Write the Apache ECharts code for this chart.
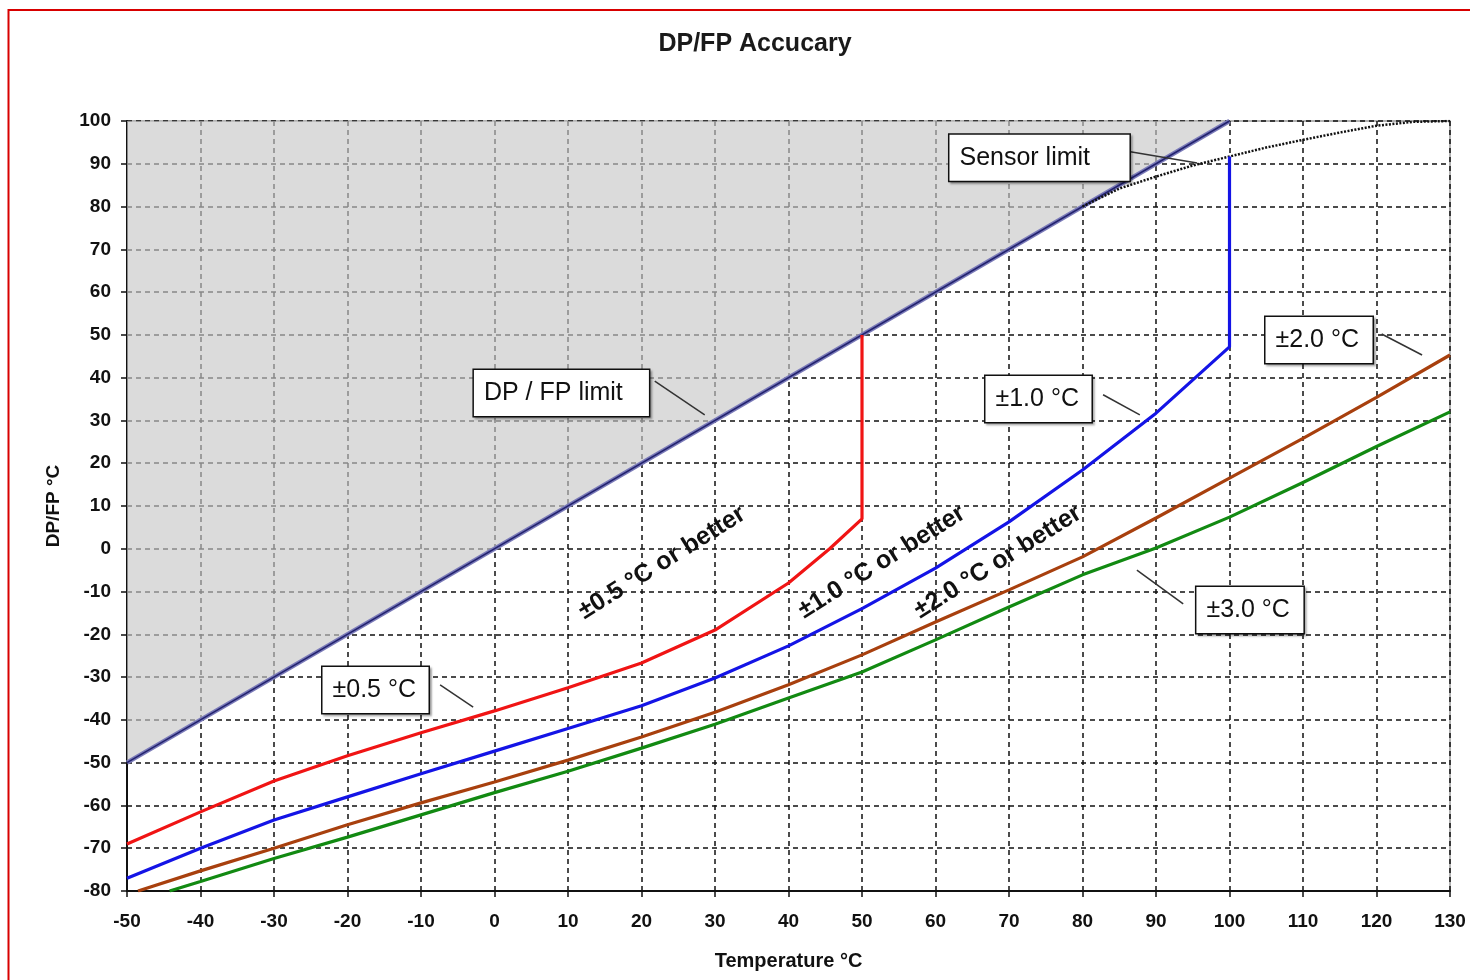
<!DOCTYPE html>
<html><head><meta charset="utf-8">
<script src="https://cdn.jsdelivr.net/npm/echarts@6/dist/echarts.min.js"></script>
<style>html,body{margin:0;padding:0;background:#fff}#c{width:1470px;height:980px}</style>
</head><body><div id="c"></div>
<script>
// ---- data (temperature °C , DP/FP °C) ----
var acc05 = [[-50,-69],[-40,-61.5],[-30,-54.3],[-20,-48.4],[-10,-43],[0,-37.9],[10,-32.5],[20,-26.7],[30,-19],[40,-8],[45.6,0],[50,7],[50,50]];
var acc10 = [[-50,-77],[-40,-70],[-30,-63.4],[-20,-58],[-10,-52.6],[0,-47.3],[10,-42],[20,-36.7],[30,-30.2],[40,-22.7],[50,-14],[60,-4.5],[70,6.3],[80,18.4],[90,31.7],[100,47.2],[100,91.7]];
var acc20 = [[-48.5,-80],[-40,-75.3],[-30,-70],[-20,-64.5],[-10,-59.4],[0,-54.5],[10,-49.4],[20,-44],[30,-38.2],[40,-31.8],[50,-24.8],[60,-17.1],[70,-9.6],[80,-1.9],[90,7.2],[100,16.5],[110,25.8],[120,35.4],[130,45.3]];
var acc30 = [[-44.2,-80],[-40,-77.8],[-30,-72.4],[-20,-67.4],[-10,-62.2],[0,-57],[10,-52],[20,-46.6],[30,-41],[40,-34.9],[50,-28.8],[60,-21.3],[70,-13.6],[80,-6.1],[90,0.2],[100,7.4],[110,15.5],[120,23.9],[130,32]];
var dpLimit = [[-50,-50],[100,100]];
var sensorLimit = [[80,80],[85,84.2],[90,87],[95,89.6],[100,91.7],[105,93.8],[110,95.6],[115,97.3],[120,98.9],[125,99.8],[130,100]];

var titleText = 'DP/FP Accucary';
var xName = 'Temperature °C';
var yName = 'DP/FP °C';

// callout boxes: text, box left-middle anchor, leader line start & end (data coords)
var callouts = [
  {text:'Sensor limit', at:[61.9,91.4], w:180, from:[86.5,92.8], to:[95.6,90.2]},
  {text:'DP / FP limit', at:[-2.8,36.4], w:175, from:[21.8,39.2], to:[28.6,31.3]},
  {text:'±1.0 °C', at:[66.8,35.0], w:106, from:[82.8,36], to:[87.8,31.3]},
  {text:'±2.0 °C', at:[104.9,48.8], w:107, from:[120.7,50.2], to:[126.2,45.3]},
  {text:'±0.5 °C', at:[-23.4,-33], w:106, from:[-7.4,-31.8], to:[-2.9,-37]},
  {text:'±3.0 °C', at:[95.5,-14.3], w:107, from:[87.4,-5], to:[93.7,-12.9]}
];
var zoneLabels = [
  {text:'±0.5 °C or better', at:[22.8,-3.3]},
  {text:'±1.0 °C or better', at:[52.7,-3.1]},
  {text:'±2.0 °C or better', at:[68.5,-3.1]}
];

var chart = echarts.init(document.getElementById('c'), null, {renderer:'canvas'});
var FONT = '"Liberation Sans", Arial, sans-serif';
function lineSeries(data, color, width, extra) {
  var s = {type:'line', data:data, symbol:'none', smooth:false, animation:false,
    lineStyle:{color:color, width:width}, z:3};
  if (extra) for (var k in extra) s[k] = extra[k];
  return s;
}
var option = {
  animation:false,
  backgroundColor:'#fff',
  textStyle:{fontFamily:FONT},
  title:{text:titleText, left:750, top:27, textAlign:'center',
    textStyle:{fontFamily:FONT, fontSize:25, fontWeight:'bold', color:'#1a1a1a'}},
  grid:{left:127, right:20, top:121, bottom:89, show:true, borderColor:'#999', borderWidth:1.5, backgroundColor:'transparent'},
  xAxis:{type:'value', min:-50, max:130, interval:10, name:xName, nameLocation:'middle', nameGap:60,
    nameTextStyle:{fontFamily:FONT, fontSize:20, fontWeight:'bold', color:'#111'},
    axisLine:{onZero:false, lineStyle:{color:'#111', width:2}},
    axisTick:{show:true, length:6, lineStyle:{color:'#111', width:1.5}},
    axisLabel:{fontFamily:FONT, fontSize:19, fontWeight:'bold', color:'#111', margin:21},
    splitLine:{show:true, lineStyle:{color:'#111', width:1.5, type:[5,4]}}},
  yAxis:{type:'value', min:-80, max:100, interval:10, name:yName, nameLocation:'middle', nameGap:64,
    nameTextStyle:{fontFamily:FONT, fontSize:19, fontWeight:'bold', color:'#111'},
    axisLine:{onZero:false, lineStyle:{color:'#111', width:2}},
    axisTick:{show:true, length:6, lineStyle:{color:'#111', width:1.5}},
    axisLabel:{fontFamily:FONT, fontSize:19, fontWeight:'bold', color:'#111', margin:16},
    splitLine:{show:true, lineStyle:{color:'#111', width:1.5, type:[5,4]}}},
  series:[
    lineSeries(dpLimit, '#7a7ab8', 4.5, {areaStyle:{origin:'end', color:'rgb(200,200,200)', opacity:0.65}, z:2}),
    lineSeries(dpLimit, '#22226e', 1.5, {z:3}),
    lineSeries(sensorLimit, '#111', 2.5, {lineStyle:{color:'#111', width:2.5, type:[2,1.5]}}),
    lineSeries(acc05, '#f01414', 3.2),
    lineSeries(acc10, '#1414e6', 3.2),
    lineSeries(acc20, '#a8400e', 3.2),
    lineSeries(acc30, '#128a12', 3.2)
  ]
};
chart.setOption(option);

var g = [];
g.push({type:'rect', shape:{x:8.5, y:10, width:1500, height:1000}, style:{fill:null, stroke:'#d80000', lineWidth:2}, z:100, silent:true});
callouts.forEach(function(c){
  var p = chart.convertToPixel({gridIndex:0}, c.at);
  var a = chart.convertToPixel({gridIndex:0}, c.from);
  var b = chart.convertToPixel({gridIndex:0}, c.to);
  g.push({type:'line', shape:{x1:a[0], y1:a[1], x2:b[0], y2:b[1]}, style:{stroke:'#333', lineWidth:1.5}, z:50});
  g.push({type:'text', x:p[0], y:p[1], z:60,
    style:{text:c.text, fontFamily:FONT, fontSize:25, fill:'#111', align:'left', verticalAlign:'middle',
      width:c.w-20, overflow:'none',
      backgroundColor:'#fff', borderColor:'#111', borderWidth:1.5, padding:[11,10,10,10],
      shadowColor:'rgba(0,0,0,0.25)', shadowOffsetX:2, shadowOffsetY:2, shadowBlur:2}});
});
zoneLabels.forEach(function(z){
  var p = chart.convertToPixel({gridIndex:0}, z.at);
  g.push({type:'text', x:p[0], y:p[1], rotation:32*Math.PI/180, z:60,
    style:{text:z.text, fontFamily:FONT, fontSize:25, fontWeight:'bold', fill:'#111', align:'center', verticalAlign:'middle'}});
});
chart.setOption({graphic:g});
</script>
</body></html>
